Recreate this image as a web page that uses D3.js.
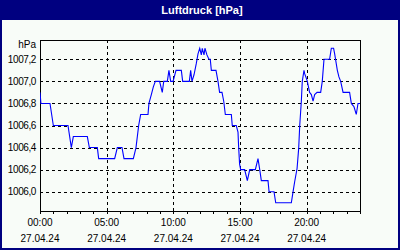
<!DOCTYPE html>
<html>
<head>
<meta charset="utf-8">
<script src="https://cdnjs.cloudflare.com/ajax/libs/d3/7.8.5/d3.min.js"></script>
<style>
  body { margin: 0; background: #fff; }
  svg { display: block; font-family: "Liberation Sans", Arial, sans-serif; }
</style>
</head>
<body>
<script>
//pseudo-global data
var hours = [0.0, 0.07, 0.75, 1.0, 2.1, 2.35, 2.5, 3.55, 3.7, 4.3, 4.4, 5.6, 5.8, 6.15, 6.3, 7.0, 7.2, 7.4, 7.55, 8.1,
  8.17, 8.35, 8.5, 8.65, 8.97, 9.17, 9.28, 9.55, 9.67, 9.8, 9.98, 10.2, 10.6, 10.7, 11.2, 11.3, 11.4, 11.55, 11.72, 11.85,
  11.98, 12.1, 12.17, 12.3, 12.37, 12.52, 12.67, 12.77, 12.85, 13.2, 13.35, 13.47, 13.65, 13.78, 13.9, 14.35, 14.42, 14.72, 14.85, 14.9,
  14.97, 15.05, 15.35, 15.55, 15.73, 16.15, 16.35, 16.48, 16.6, 17.1, 17.18, 17.55, 17.68, 18.85, 18.98, 19.1, 19.28, 19.4, 19.48, 19.6,
  19.67, 19.8, 19.85, 19.97, 20.05, 20.22, 20.35, 20.48, 20.6, 20.78, 21.05, 21.17, 21.3, 21.72, 21.85, 22.02, 22.1, 22.3, 22.42, 22.55,
  22.73, 23.22, 23.35, 23.55, 23.72, 23.85, 24.0];
var pressure = [1006.9, 1006.8, 1006.8, 1006.6, 1006.6, 1006.4, 1006.5, 1006.5, 1006.4, 1006.4, 1006.3, 1006.3, 1006.4, 1006.4, 1006.3, 1006.3, 1006.4, 1006.6, 1006.7, 1006.7,
  1006.8, 1006.88, 1006.95, 1007.0, 1007.0, 1006.9, 1007.0, 1007.0, 1007.1, 1007.0, 1007.0, 1007.1, 1007.1, 1007.0, 1007.0, 1007.1, 1007.0, 1007.06, 1007.16, 1007.25,
  1007.3, 1007.24, 1007.3, 1007.24, 1007.3, 1007.24, 1007.2, 1007.2, 1007.1, 1007.1, 1007.0, 1006.9, 1006.9, 1006.82, 1006.7, 1006.7, 1006.6, 1006.6, 1006.54, 1006.4,
  1006.25, 1006.2, 1006.2, 1006.1, 1006.2, 1006.2, 1006.3, 1006.2, 1006.1, 1006.1, 1006.0, 1006.0, 1005.9, 1005.9, 1006.0, 1006.09, 1006.21, 1006.39, 1006.6, 1006.82,
  1007.0, 1007.1, 1007.07, 1007.03, 1007.0, 1006.9, 1006.88, 1006.82, 1006.88, 1006.9, 1006.9, 1007.0, 1007.2, 1007.2, 1007.3, 1007.3, 1007.25, 1007.1, 1007.04, 1007.0,
  1006.9, 1006.9, 1006.8, 1006.77, 1006.7, 1006.8, 1006.8];
var yTicks = [1006.0, 1006.2, 1006.4, 1006.6, 1006.8, 1007.0, 1007.2];
var xGridHours = [5, 10, 15, 20];
var xLabelHours = [0, 5, 10, 15, 20];
var xLabels = ["00:00", "05:00", "10:00", "15:00", "20:00"];
var dateLabel = "27.04.24";
var title = "Luftdruck [hPa]";
var unit = "hPa";

//wraps drawing in a self-executing function to keep it in local scope
(function(){

var width = 400, height = 250,
    plotLeft = 40, plotRight = 360, plotTop = 40, plotBottom = 211;

var svg = d3.select("body").append("svg")
    .attr("width", width)
    .attr("height", height);

//background and frame
svg.append("rect")
    .attr("x", 1).attr("y", 1)
    .attr("width", width - 2).attr("height", height - 2)
    .attr("fill", "#f8fcf8")
    .attr("stroke", "#000080")
    .attr("stroke-width", 2);

//title bar
svg.append("rect")
    .attr("x", 0).attr("y", 0)
    .attr("width", width).attr("height", 20)
    .attr("fill", "#000080");

svg.append("text")
    .attr("x", 202)
    .attr("y", 14)
    .attr("text-anchor", "middle")
    .attr("fill", "#fff")
    .attr("font-weight", "bold")
    .attr("font-size", "11px")
    .text(title);

//scales
var x = d3.scaleLinear().domain([0, 24]).range([plotLeft, plotRight]);
var y = d3.scaleLinear().domain([1005.825, 1007.375]).range([plotBottom, plotTop]);

//horizontal grid + y labels
var yAxis = d3.axisLeft(y)
    .tickValues(yTicks)
    .tickSize(-(plotRight - plotLeft))
    .tickPadding(4)
    .tickFormat(function(d){ return d3.format(".1f")(d).replace(".", ","); });

var gy = svg.append("g")
    .attr("transform", "translate(" + plotLeft + ",0)")
    .call(yAxis);
gy.select(".domain").remove();
gy.selectAll("line")
    .attr("stroke", "#000")
    .attr("stroke-dasharray", "3,3")
    .attr("shape-rendering", "crispEdges");
gy.selectAll("text")
    .attr("fill", "#000")
    .attr("font-size", "10px")
    .attr("letter-spacing", "-0.4px")
    .attr("font-family", "Liberation Sans, Arial, sans-serif");

//vertical grid
svg.append("g").selectAll("line")
    .data(xGridHours)
    .enter()
    .append("line")
    .attr("x1", function(d){ return Math.round(x(d)) + 0.5; })
    .attr("x2", function(d){ return Math.round(x(d)) + 0.5; })
    .attr("y1", plotTop)
    .attr("y2", plotBottom)
    .attr("stroke", "#000")
    .attr("stroke-dasharray", "3,3")
    .attr("shape-rendering", "crispEdges");

//bottom axis with hourly ticks
var xAxis = d3.axisBottom(x)
    .tickValues(d3.range(0, 25))
    .tickSize(3)
    .tickSizeOuter(0)
    .tickFormat("");

var gx = svg.append("g")
    .attr("transform", "translate(0," + plotBottom + ")")
    .call(xAxis);
gx.selectAll("path, line")
    .attr("stroke", "#000")
    .attr("shape-rendering", "crispEdges");

//x labels (time + date)
var xl = svg.append("g").selectAll("g")
    .data(xLabelHours)
    .enter()
    .append("g")
    .attr("transform", function(d){ return "translate(" + x(d) + ",0)"; });

xl.append("text")
    .attr("y", 226)
    .attr("text-anchor", "middle")
    .attr("font-size", "10px")
    .text(function(d, i){ return xLabels[i]; });

xl.append("text")
    .attr("y", 242)
    .attr("text-anchor", "middle")
    .attr("font-size", "10px")
    .text(dateLabel);

//unit label
svg.append("text")
    .attr("x", 36)
    .attr("y", 48)
    .attr("text-anchor", "end")
    .attr("font-size", "10px")
    .text(unit);

//plot frame
svg.append("rect")
    .attr("x", plotLeft + 0.5).attr("y", plotTop + 0.5)
    .attr("width", plotRight - plotLeft).attr("height", plotBottom - plotTop)
    .attr("fill", "none")
    .attr("stroke", "#000")
    .attr("shape-rendering", "crispEdges");

//data line
svg.append("clipPath").attr("id", "plotclip")
    .append("rect")
    .attr("x", plotLeft).attr("y", plotTop)
    .attr("width", plotRight - plotLeft + 1).attr("height", plotBottom - plotTop);

var line = d3.line()
    .x(function(d, i){ return x(hours[i]); })
    .y(function(d){ return y(d); });

svg.append("path")
    .datum(pressure)
    .attr("clip-path", "url(#plotclip)")
    .attr("d", line)
    .attr("fill", "none")
    .attr("stroke", "#0000ff")
    .attr("stroke-width", 1.1);

})();
</script>
</body>
</html>
